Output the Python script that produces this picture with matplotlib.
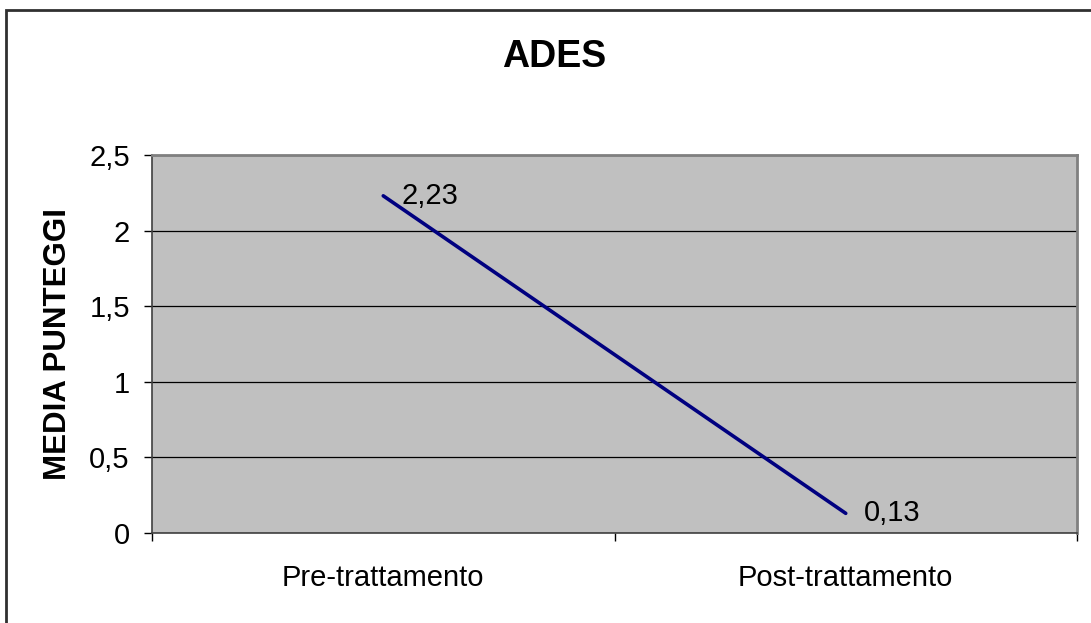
import matplotlib.pyplot as plt
from matplotlib.patches import Rectangle
from matplotlib.ticker import FixedLocator

# dati
categorie = ['Pre-trattamento', 'Post-trattamento']
medie = [2.23, 0.13]
etichette = ['2,23', '0,13']
yticks = [0, 0.5, 1, 1.5, 2, 2.5]
ytick_labels = ['0', '0,5', '1', '1,5', '2', '2,5']

plt.rcParams['font.family'] = ['Liberation Sans', 'DejaVu Sans']

fig = plt.figure(figsize=(10.91, 6.23), dpi=100)
W, H = 1091, 623

# cornice esterna (come nel grafico Excel)
fig.patches.append(Rectangle((6 / W, -0.1), 1.2, 1 - 10 / H + 0.1,
                             transform=fig.transFigure, fill=False,
                             edgecolor='#303030', linewidth=2))

ax = fig.add_axes([152 / W, 1 - 533 / H, (1077 - 152) / W, (533 - 155) / H])
ax.set_facecolor('#C0C0C0')

x = list(range(len(categorie)))
ax.plot(x, medie, color='#000080', linewidth=2.6, solid_capstyle='round')
for xi, yi, lab in zip(x, medie, etichette):
    ax.annotate(lab, (xi, yi), xytext=(13, 0), textcoords='offset points',
                fontsize=21, va='center', ha='left')

ax.set_xlim(-0.5, len(categorie) - 0.5)
ax.set_ylim(0, 2.5)
ax.set_yticks(yticks)
ax.set_yticklabels(ytick_labels)
ax.set_xticks(x)
ax.set_xticklabels(categorie)
ax.xaxis.set_minor_locator(FixedLocator([-0.5, 0.5, 1.5]))

ax.yaxis.grid(True, color='black', linewidth=0.9)
ax.set_axisbelow(True)

ax.tick_params(axis='y', direction='out', length=6, width=1, pad=10, labelsize=21)
ax.tick_params(axis='x', which='major', length=0, pad=22, labelsize=21)
ax.tick_params(axis='x', which='minor', direction='out', length=6, width=1)

for s in ['top', 'right']:
    ax.spines[s].set_color('#808080')
    ax.spines[s].set_linewidth(2)
for s in ['left', 'bottom']:
    ax.spines[s].set_color('#404040')
    ax.spines[s].set_linewidth(1.2)

fig.text(58 / W, 1 - 344 / H, 'MEDIA PUNTEGGI', fontsize=22.5, fontweight='bold',
         rotation=90, ha='center', va='center')
fig.text(554 / W, 1 - 57 / H, 'ADES', fontsize=27, fontweight='bold',
         ha='center', va='center')

fig.savefig('out.png', dpi=100)
